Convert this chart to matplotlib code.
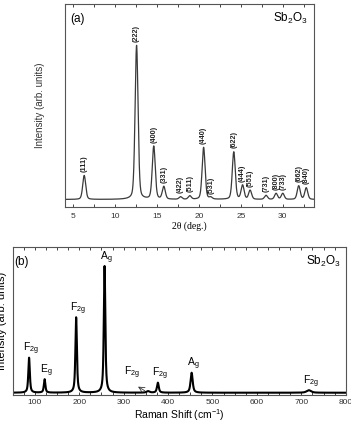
import matplotlib
matplotlib.use('Agg')
import matplotlib.pyplot as plt
from matplotlib.ticker import MultipleLocator
import numpy as np

plt.rcParams['font.family'] = ['Liberation Sans', 'DejaVu Sans']
plt.rcParams['mathtext.default'] = 'regular'

# (a) XRD peaks: 2theta, height (arb.), hkl
xrd_pos = [6.3, 12.55, 14.6, 15.8, 17.8, 18.9, 20.55, 21.4, 24.15, 25.2, 26.1, 28.0, 29.2, 30.0, 31.9, 32.8]
xrd_height = [24, 154, 53, 12.6, 2.5, 3.5, 52, 1.8, 47.5, 14, 9, 4, 6, 6, 13.6, 11.6]
xrd_hkl = ['(111)', '(222)', '(400)', '(331)', '(422)', '(511)', '(440)', '(531)', '(622)',
           '(444)', '(551)', '(731)', '(800)', '(733)', '(662)', '(840)']

# (b) Raman modes: shift (cm-1), height (arb.), width, label
raman_pos = [87, 122, 193, 257, 355, 377, 453, 717]
raman_height = [35, 13.4, 75.4, 126.7, 1.5, 10, 20, 2.5]
raman_width = [2.0, 2.0, 2.0, 2.0, 4, 2.4, 2.8, 6]
raman_lab = ['F$_{2g}$', 'E$_{g}$', 'F$_{2g}$', 'A$_{g}$', 'F$_{2g}$', 'F$_{2g}$', 'A$_{g}$', 'F$_{2g}$']


def pv(x, c, h, w, eta=0.3):
    g = np.exp(-np.log(2) * ((x - c) / w) ** 2)
    l = 1 / (1 + ((x - c) / w) ** 2)
    return h * (eta * l + (1 - eta) * g)


fig = plt.figure(figsize=(3.51, 4.22), dpi=100)

# ---- (a)
ax1 = fig.add_axes([0.185, 0.5095, 0.709, 0.4799])
tt = np.linspace(4, 34, 3000)
y1 = np.zeros_like(tt)
for c, h in zip(xrd_pos, xrd_height):
    y1 += pv(tt, c, h, 0.21)
ax1.plot(tt, y1, color='#3a3a3a', lw=0.9)
for c, h, s in zip(xrd_pos, xrd_height, xrd_hkl):
    ax1.text(c, h + 3.5, s, rotation=90, ha='center', va='bottom',
             fontsize=5.2, fontweight='bold', color='#222222')
ax1.set_xlim(4, 33.7)
ax1.set_ylim(-7.5, 195)
ax1.set_yticks([])
ax1.xaxis.set_major_locator(MultipleLocator(5))
ax1.xaxis.set_minor_locator(MultipleLocator(2.5))
ax1.tick_params(axis='x', which='both', direction='in', top=True, length=2.5,
                width=0.7, labelsize=6, pad=4, colors='#444444', labelcolor='#333333')
ax1.set_xlabel('2θ (deg.)', fontsize=7, family='Liberation Serif', labelpad=1)
ax1.set_ylabel('Intensity (arb. units)', fontsize=7, color='#333333')
ax1.yaxis.set_label_coords(-0.08, 0.5)
ax1.text(0.02, 0.93, '(a)', transform=ax1.transAxes, fontsize=8.5, va='center')
ax1.text(0.975, 0.93, 'Sb$_2$O$_3$', transform=ax1.transAxes, fontsize=8.5,
         ha='right', va='center')
for sp in ax1.spines.values():
    sp.set_color('#555555')
    sp.set_linewidth(0.8)

# ---- (b)
ax2 = fig.add_axes([0.036, 0.0651, 0.949, 0.3495])
ws = np.linspace(50, 800, 6000)
y2 = np.zeros_like(ws)
for c, h, w in zip(raman_pos, raman_height, raman_width):
    y2 += pv(ws, c, h, w, eta=0.7)
ax2.plot(ws, y2, color='black', lw=1.5)
for c, h, s in zip(raman_pos, raman_height, raman_lab):
    if c == 355:
        ax2.text(c - 36, 12, s, ha='center', va='bottom', fontsize=7.5)
        ax2.annotate('', xy=(c - 28, 7.5), xytext=(c - 2, 0.5),
                     arrowprops=dict(arrowstyle='->', color='#333333', lw=0.6))
    else:
        ax2.text(c + 4, h + 0.5, s, ha='center', va='bottom', fontsize=7.5)
ax2.set_xlim(50, 800)
ax2.set_ylim(-1.8, 145.7)
ax2.set_yticks([])
ax2.xaxis.set_major_locator(MultipleLocator(100))
ax2.xaxis.set_minor_locator(MultipleLocator(25))
ax2.tick_params(axis='x', which='both', direction='in', top=True, length=2.5,
                width=0.7, labelsize=6, pad=3, colors='#444444', labelcolor='#333333')
ax2.set_xlabel('Raman Shift (cm$^{-1}$)', fontsize=7.5, labelpad=1)
ax2.set_ylabel('Intensity (arb. units)', fontsize=8)
ax2.yaxis.set_label_coords(-0.018, 0.5)
ax2.text(0.005, 0.9, '(b)', transform=ax2.transAxes, fontsize=8.5, va='center')
ax2.text(0.985, 0.9, 'Sb$_2$O$_3$', transform=ax2.transAxes, fontsize=8.5,
         ha='right', va='center')
for sp in ax2.spines.values():
    sp.set_color('#555555')
    sp.set_linewidth(0.8)

fig.savefig('out.png', dpi=100)
